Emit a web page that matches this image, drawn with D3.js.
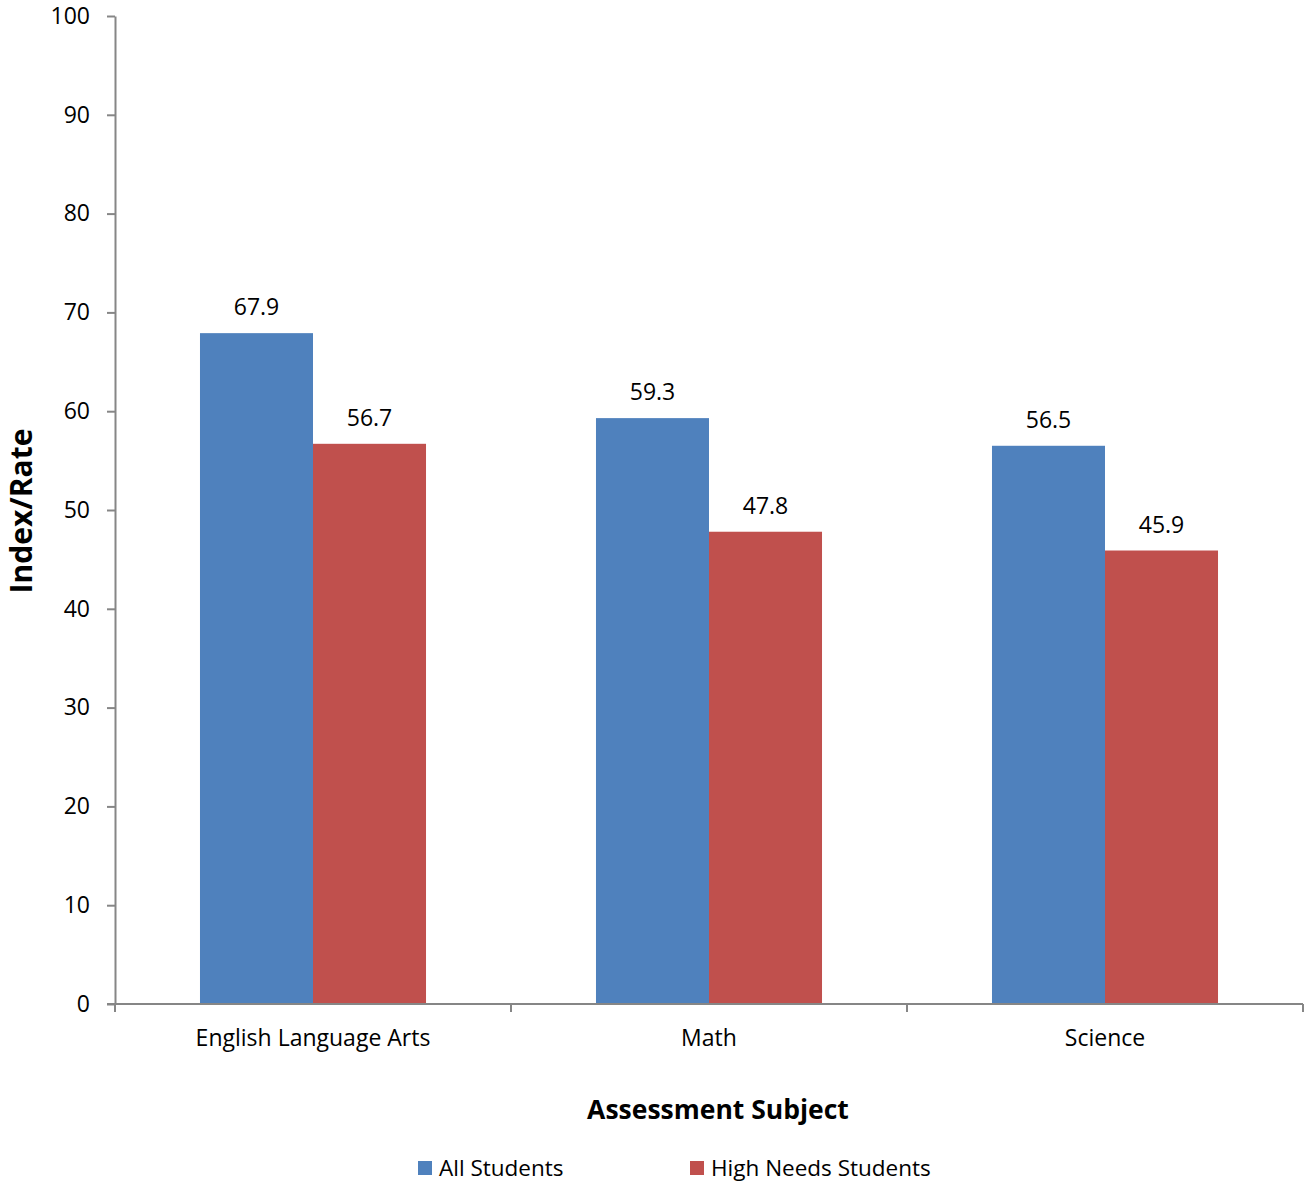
<!DOCTYPE html>
<html>
<head>
<meta charset="utf-8">
<script src="https://cdn.jsdelivr.net/npm/d3@7"></script>
<style>
  body { margin: 0; background: #fff; }
  svg text { font-family: "Open Sans", sans-serif; fill: #000; }
</style>
</head>
<body>
<svg width="1305" height="1184"></svg>
<script>
// data
const subjects = ["English Language Arts", "Math", "Science"];
const seriesNames = ["All Students", "High Needs Students"];
const allStudents = [67.9, 59.3, 56.5];
const highNeeds = [56.7, 47.8, 45.9];
const yTicks = [0, 10, 20, 30, 40, 50, 60, 70, 80, 90, 100];
const colors = ["#4F81BD", "#C0504D"];

const svg = d3.select("svg");
const plotLeft = 115, plotRight = 1303, plotTop = 16, plotBottom = 1004;
const fs = "23px";

const x = d3.scaleBand().domain(subjects).range([plotLeft, plotRight]);
const xInner = d3.scaleBand().domain(seriesNames).range([0, x.bandwidth()]).paddingInner(0).paddingOuter(0.752);
const y = d3.scaleLinear().domain([0, 100]).range([plotBottom, plotTop]);

const rows = subjects.map((s, i) => ({ subject: s, values: [allStudents[i], highNeeds[i]] }));

// bars
const groups = svg.selectAll(".grp")
  .data(rows)
  .enter()
  .append("g")
  .attr("transform", d => `translate(${x(d.subject)},0)`);

groups.selectAll("rect")
  .data(d => d.values.map((v, j) => ({ name: seriesNames[j], v: v, j: j })))
  .enter()
  .append("rect")
  .attr("x", d => xInner(d.name))
  .attr("width", xInner.bandwidth())
  .attr("y", d => y(d.v))
  .attr("height", d => y(0) - y(d.v))
  .attr("fill", d => colors[d.j]);

groups.selectAll(".lbl")
  .data(d => d.values.map((v, j) => ({ name: seriesNames[j], v: v })))
  .enter()
  .append("text")
  .attr("class", "lbl")
  .attr("x", d => xInner(d.name) + xInner.bandwidth() / 2)
  .attr("y", d => y(d.v) - 18)
  .attr("text-anchor", "middle")
  .style("font-size", fs)
  .text(d => d.v.toFixed(1));

// y axis
const yAxis = svg.append("g")
  .attr("transform", `translate(${plotLeft},0)`)
  .call(d3.axisLeft(y).tickValues(yTicks).tickSize(8).tickPadding(17).tickSizeOuter(0));
yAxis.selectAll("text").style("font-size", fs).attr("fill", "#000");

// x axis
const xAxis = svg.append("g")
  .attr("transform", `translate(0,${plotBottom})`)
  .call(d3.axisBottom(x).tickSize(0).tickPadding(26).tickSizeOuter(0));
xAxis.selectAll("text").style("font-size", fs).attr("fill", "#000");
xAxis.append("line")
  .attr("x1", plotLeft - 8).attr("x2", plotRight).attr("y1", 0).attr("y2", 0)
  .attr("stroke", "#868686").attr("stroke-width", 2);
xAxis.selectAll(".sep")
  .data(subjects.concat(["end"]))
  .enter()
  .append("line")
  .attr("x1", (d, i) => i < subjects.length ? x(d) : plotRight)
  .attr("x2", (d, i) => i < subjects.length ? x(d) : plotRight)
  .attr("y1", 0).attr("y2", 8)
  .attr("stroke", "#868686").attr("stroke-width", 2);

svg.selectAll(".domain, .tick line").attr("stroke", "#868686").attr("stroke-width", 2);
xAxis.select(".domain").remove();

// axis titles
svg.append("text")
  .attr("x", 718).attr("y", 1119)
  .attr("text-anchor", "middle")
  .style("font-size", "26.5px").style("font-weight", "bold")
  .text("Assessment Subject");

svg.append("text")
  .attr("transform", "translate(32,511) rotate(-90)")
  .attr("text-anchor", "middle")
  .style("font-size", "30px").style("font-weight", "bold")
  .text("Index/Rate");

// legend
const legendX = [418, 690];
const legend = svg.selectAll(".leg")
  .data(seriesNames)
  .enter()
  .append("g")
  .attr("transform", (d, i) => `translate(${legendX[i]},1161)`);
legend.append("rect").attr("width", 14).attr("height", 14).attr("fill", (d, i) => colors[i]);
legend.append("text").attr("x", 21).attr("y", 15).style("font-size", "22.5px").text(d => d);
</script>
</body>
</html>
